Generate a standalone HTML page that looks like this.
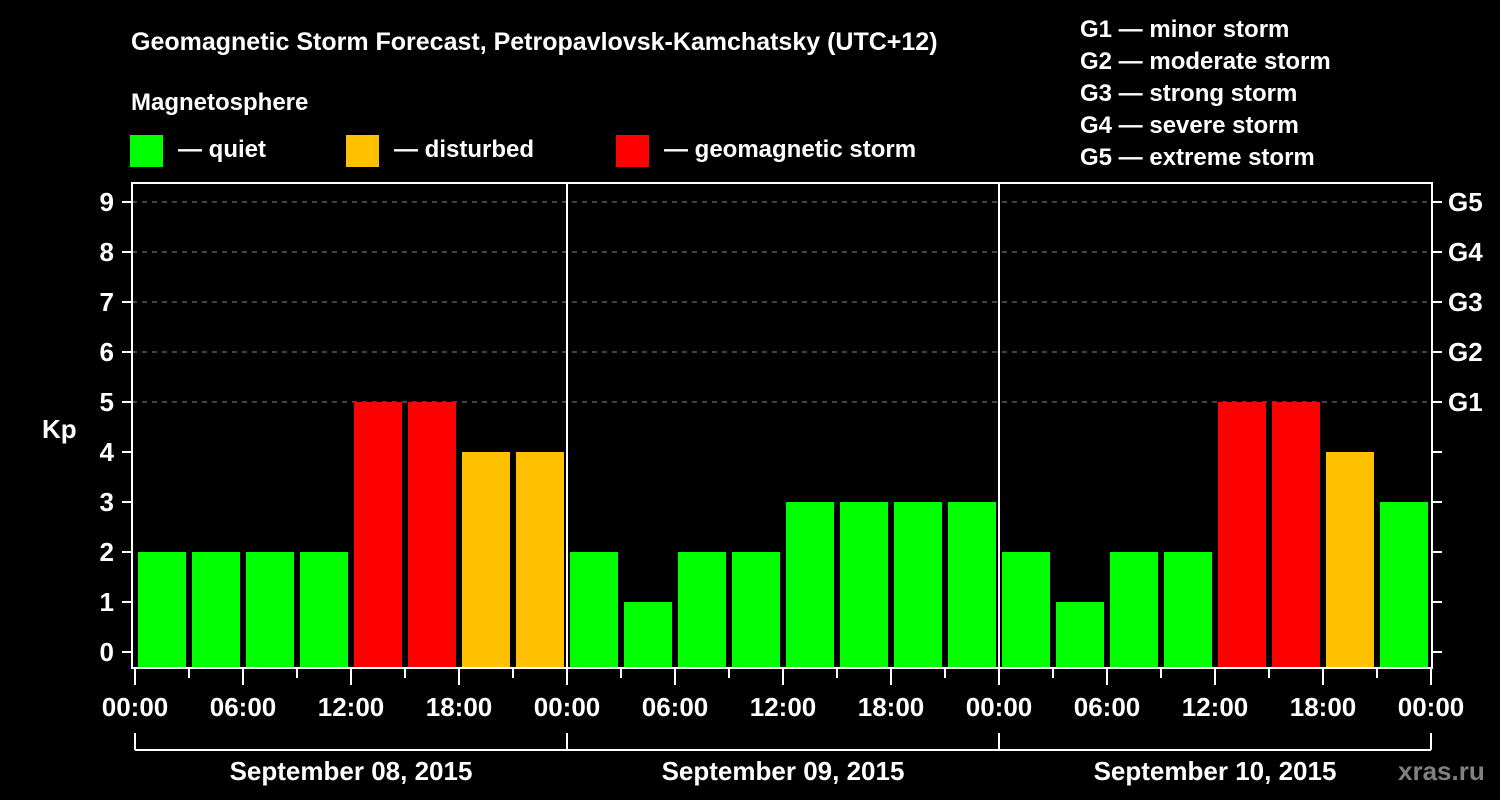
<!DOCTYPE html>
<html><head><meta charset="utf-8"><style>
html,body{margin:0;padding:0;background:#000;}
svg{display:block;font-family:"Liberation Sans",Arial,sans-serif;font-weight:bold;}
</style></head><body>
<svg id="chart" width="1500" height="800" viewBox="0 0 1500 800">
<rect width="1500" height="800" fill="#000"/>
<text x="131" y="50" fill="#fff" font-size="25">Geomagnetic Storm Forecast, Petropavlovsk-Kamchatsky (UTC+12)</text>
<text x="131" y="110" fill="#fff" font-size="24">Magnetosphere</text>
<g><rect x="130" y="135" width="33" height="32" fill="#00ff00"/><text x="178" y="157" fill="#fff" font-size="24">— quiet</text></g>
<g><rect x="346" y="135" width="33" height="32" fill="#ffc000"/><text x="394" y="157" fill="#fff" font-size="24">— disturbed</text></g>
<g><rect x="616" y="135" width="33" height="32" fill="#ff0000"/><text x="664" y="157" fill="#fff" font-size="24">— geomagnetic storm</text></g>
<g fill="#fff" font-size="24">
<text x="1080" y="37">G1 — minor storm</text>
<text x="1080" y="69">G2 — moderate storm</text>
<text x="1080" y="101">G3 — strong storm</text>
<text x="1080" y="133">G4 — severe storm</text>
<text x="1080" y="165">G5 — extreme storm</text>
</g>
<text x="42" y="438" fill="#fff" font-size="26">Kp</text>
<text x="1398" y="780" fill="#808080" font-size="26">xras.ru</text>
<g id="grid"></g><g id="bars"></g><g id="axes"></g>
</svg>
<script>
const kpValues = [2,2,2,2,5,5,4,4, 2,1,2,2,3,3,3,3, 2,1,2,2,5,5,4,3];
const dayLabels = ["September 08, 2015","September 09, 2015","September 10, 2015"];
const yTicks = [0,1,2,3,4,5,6,7,8,9];
const gLabels = ["G1","G2","G3","G4","G5"];
const gLevels = [5,6,7,8,9];
const hourLabels = ["00:00","06:00","12:00","18:00"];

const NS="http://www.w3.org/2000/svg";
const X0=135, X1=1431, TOP=183, BOT=668;
const hoursTotal=72;
const xs=h=>X0+(X1-X0)*h/hoursTotal;
const ys=v=>652-50*v;
function mk(tag,attrs,parent,txt){const e=document.createElementNS(NS,tag);for(const k in attrs)e.setAttribute(k,attrs[k]);if(txt!=null)e.textContent=txt;parent.appendChild(e);return e;}
const grid=document.getElementById('grid'),bars=document.getElementById('bars'),axes=document.getElementById('axes');
gLevels.forEach((g,i)=>{
 const l=mk('line',{x1:132,x2:1432,y1:ys(g),y2:ys(g),stroke:'#888','stroke-width':1,'stroke-dasharray':'5,5'},grid);
 
 
});
function color(v){return v>=5?'#ff0000':(v>=4?'#ffc000':'#00ff00');}
kpValues.forEach((v,i)=>{
 const x=xs(i*3)+3, w=xs(3)-X0-6;
 const r=mk('rect',{x:x,y:ys(v),width:w,height:BOT-ys(v),fill:color(v)},bars);
 
 
});
// frame
const f=mk('rect',{x:132,y:TOP,width:1300,height:BOT-TOP,fill:'none',stroke:'#fff','stroke-width':2},axes);


for(let d=1;d<dayLabels.length;d++){
 const l=mk('line',{x1:xs(d*24),x2:xs(d*24),y1:TOP,y2:BOT,stroke:'#fff','stroke-width':2},axes);
 
 
}
yTicks.forEach(t=>{
 mk('line',{x1:122,x2:132,y1:ys(t),y2:ys(t),stroke:'#fff','stroke-width':2},axes);
 mk('line',{x1:1432,x2:1442,y1:ys(t),y2:ys(t),stroke:'#fff','stroke-width':2},axes);
 const tx=mk('text',{x:114,y:ys(t)+9,fill:'#fff','font-size':26,'text-anchor':'end'},axes,String(t));
 
 
});
gLevels.forEach((g,i)=>{
 const tx=mk('text',{x:1448,y:ys(g)+9,fill:'#fff','font-size':26},axes,gLabels[i]);
 
 
});
for(let h=0;h<=hoursTotal;h+=3){
 const major=h%6===0;
 mk('line',{x1:xs(h),x2:xs(h),y1:BOT,y2:major?685:678,stroke:'#fff','stroke-width':2},axes);
 if(major){
  const tx=mk('text',{x:xs(h),y:716,fill:'#fff','font-size':26,'text-anchor':'middle'},axes,hourLabels[(h/6)%4]);
  
  
 }
}
mk('line',{x1:X0,x2:X1,y1:750,y2:750,stroke:'#fff','stroke-width':2},axes);
for(let d=0;d<=dayLabels.length;d++){
 mk('line',{x1:xs(d*24),x2:xs(d*24),y1:733,y2:750,stroke:'#fff','stroke-width':2},axes);
}
dayLabels.forEach((s,d)=>{
 const tx=mk('text',{x:xs(d*24+12),y:780,fill:'#fff','font-size':26,'text-anchor':'middle'},axes,s);
 
 
});
</script>
</body></html>
